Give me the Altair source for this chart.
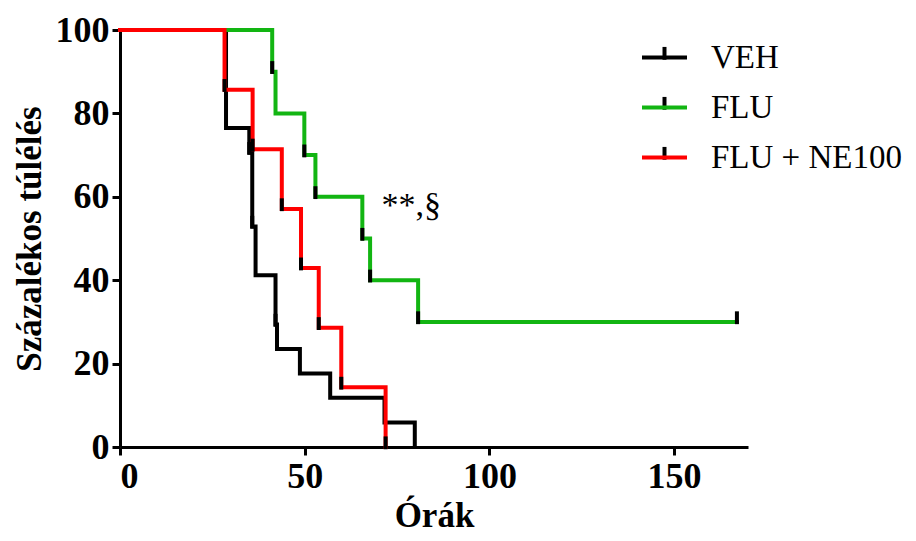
import altair as alt
import pandas as pd

# ---- data ----
series_names = ["VEH", "FLU", "FLU + NE100"]
series_colors = ["#000000", "#12b512", "#ff0000"]

veh_t = [0, 28.7, 35.0, 35.8, 36.7, 42.1, 42.5, 48.7, 56.9, 71.6, 79.8]
veh_s = [100, 76.5, 70.6, 52.9, 41.2, 29.4, 23.5, 17.6, 11.8, 5.9, 0]

flu_t = [0, 41.2, 42.1, 49.9, 52.9, 65.6, 67.7, 80.7, 167]
flu_s = [100, 90, 80, 70, 60, 50, 40, 30, 30]

ne_t = [0, 28.3, 35.9, 43.8, 49.0, 53.8, 59.9, 71.9]
ne_s = [100, 85.7, 71.4, 57.1, 42.9, 28.6, 14.3, 0]

# censor tick marks (time, survival)
veh_tick_t = [35.0, 35.8, 42.1]
veh_tick_s = [70.6, 52.9, 29.4]
flu_tick_t = [41.2, 49.9, 52.9, 65.6, 67.7, 80.7, 167]
flu_tick_s = [90, 70, 60, 50, 40, 30, 30]
ne_tick_t = [28.3, 35.9, 43.8, 49.0, 53.8, 59.9, 71.9]
ne_tick_s = [85.7, 71.4, 57.1, 42.9, 28.6, 14.3, 0]

x_ticks = [0, 50, 100, 150]
y_ticks = [0, 20, 40, 60, 80, 100]

annot_text = ["**,§"]
annot_t = [70.8]
annot_s = [57.8]

# ---- tables ----
def frame(name, t, s):
    return pd.DataFrame({"series": name, "t": t, "s": s})

lines_df = pd.concat([
    frame("VEH", veh_t, veh_s),
    frame("FLU", flu_t, flu_s),
    frame("FLU + NE100", ne_t, ne_s),
], ignore_index=True)

ticks_df = pd.concat([
    frame("VEH", veh_tick_t, veh_tick_s),
    frame("FLU", flu_tick_t, flu_tick_s),
    frame("FLU + NE100", ne_tick_t, ne_tick_s),
], ignore_index=True)

annot_df = pd.DataFrame({"txt": annot_text, "t": annot_t, "s": annot_s})

SERIF = "Liberation Serif"

x_enc = alt.X("t:Q", scale=alt.Scale(domain=[0, 170], nice=False),
              axis=alt.Axis(values=x_ticks, title="Órák", format="d"))
y_enc = alt.Y("s:Q", scale=alt.Scale(domain=[0, 100], nice=False),
              axis=alt.Axis(values=y_ticks, title="Százalékos túlélés", format="d"))

legend_x = 520
legend_y = 3

color_legend = alt.Legend(
    title=None, orient="none", legendX=legend_x, legendY=legend_y,
    symbolType="M-1,0H1", symbolSize=2025, symbolStrokeWidth=4,
    symbolFillColor="transparent",
    labelFont=SERIF, labelFontSize=33, labelFontWeight="normal",
    labelColor="black", labelOffset=22, rowPadding=8, padding=0,
    labelLimit=400,
)
shape_legend = alt.Legend(
    title=None, orient="none", legendX=legend_x, legendY=legend_y,
    symbolSize=2025, symbolStrokeWidth=4, symbolStrokeColor="black",
    symbolFillColor="transparent",
    labelFont=SERIF, labelFontSize=33, labelOpacity=0,
    labelOffset=22, rowPadding=8, padding=0, labelLimit=400,
)

color_scale = alt.Scale(domain=series_names, range=series_colors)
tick_path = "M0,-0.47V0.1"
shape_scale = alt.Scale(domain=series_names, range=[tick_path] * 3)

order_df_sort = ["VEH", "FLU", "FLU + NE100"]

lines = alt.Chart(lines_df).mark_line(interpolate="step-after", strokeWidth=4,
                                      strokeCap="square").encode(
    x=x_enc, y=y_enc,
    color=alt.Color("series:N", scale=color_scale, legend=color_legend,
                    sort=order_df_sort),
    detail="series:N",
)

ticks = alt.Chart(ticks_df).mark_point(filled=False, strokeWidth=4, size=2025,
                                       color="black", opacity=1).encode(
    x="t:Q", y="s:Q",
    shape=alt.Shape("series:N", scale=shape_scale, legend=shape_legend,
                    sort=order_df_sort),
)

annot = alt.Chart(annot_df).mark_text(font=SERIF, fontSize=34, align="left",
                                      baseline="middle", color="black").encode(
    x="t:Q", y="s:Q", text="txt:N",
)

chart = alt.layer(lines, ticks, annot).resolve_scale(color="independent").properties(
    width=628, height=417,
    padding={"left": 4, "top": 4, "right": 0, "bottom": 0},
).configure_view(stroke=None).configure_axis(
    grid=False, domainColor="black", domainWidth=3, tickColor="black",
    tickWidth=3, tickSize=8, labelFont=SERIF, labelFontWeight="bold",
    labelFontSize=36, labelColor="black", titleFont=SERIF,
    titleFontWeight="bold", titleFontSize=35, titleColor="black",
).configure_axisY(labelPadding=3, titlePadding=8).configure_axisX(
    labelPadding=4, titlePadding=4)

chart.save("out.html", embed_options={"renderer": "svg", "actions": False})
